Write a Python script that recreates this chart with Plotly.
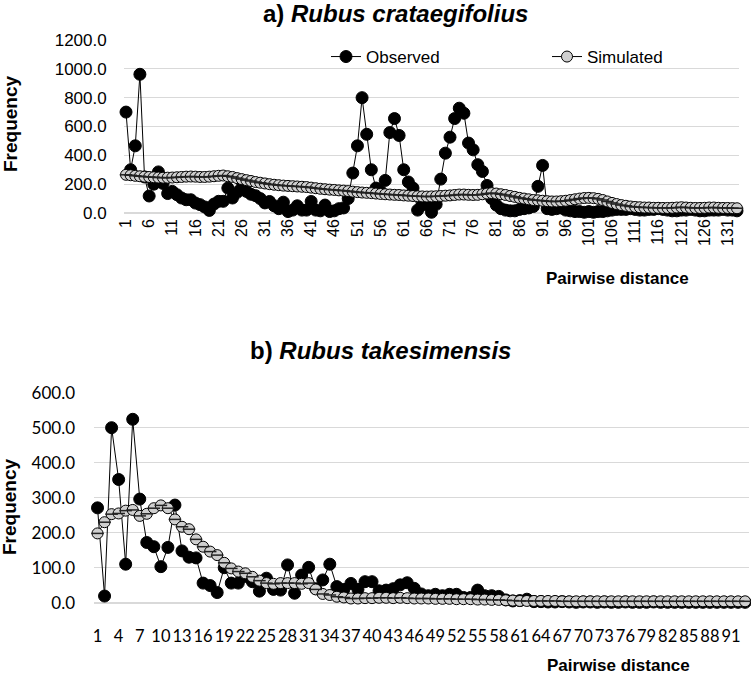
import plotly.graph_objects as go

# a) Rubus crataegifolius - pairwise distance 1..133
dist_a = list(range(1, 134))
observed_a = [
    700, 300, 466, 962, 250, 118, 200, 285, 205, 135,
    150, 127, 104, 92, 92, 69, 58, 42, 18, 62,
    81, 81, 173, 104, 143, 175, 150, 130, 120, 100,
    70, 80, 50, 30, 75, 10, 20, 50, 20, 20,
    80, 20, 15, 55, 10, 15, 30, 35, 100, 277,
    466, 800, 546, 300, 173, 150, 226, 558, 655, 538,
    300, 215, 173, 20, 55, 60, 5, 60, 235, 415,
    526, 655, 727, 692, 485, 438, 335, 288, 191, 100,
    55, 30, 20, 15, 15, 25, 30, 35, 45, 185,
    330, 30, 25, 30, 35, 20, 15, 10, 10, 5,
    10, 5, 10, 10, 15, 20, 25, 25, 25, 30,
    25, 20, 20, 25, 25, 30, 25, 20, 15, 15,
    20, 20, 25, 20, 15, 15, 20, 20, 20, 25,
    20, 20, 15,
]
simulated_a = [
    265, 262, 258, 255, 252, 250, 248, 246, 245, 245,
    246, 248, 250, 252, 253, 252, 250, 250, 252, 255,
    258, 260, 255, 250, 242, 235, 228, 222, 215, 210,
    205, 200, 196, 193, 190, 188, 186, 184, 182, 180,
    176, 172, 168, 165, 162, 160, 157, 155, 152, 148,
    145, 142, 140, 138, 135, 132, 130, 128, 126, 125,
    122, 120, 118, 116, 115, 114, 115, 116, 118, 120,
    122, 125, 128, 128, 126, 125, 126, 130, 135, 138,
    135, 130, 125, 118, 112, 105, 100, 95, 90, 88,
    85, 82, 80, 80, 82, 85, 90, 95, 100, 104,
    105, 103, 98, 90, 80, 70, 62, 55, 50, 45,
    42, 40, 38, 38, 36, 36, 35, 35, 36, 38,
    40, 38, 36, 35, 35, 36, 38, 38, 36, 35,
    35, 34, 33,
]
ticks_a = list(range(1, 134, 5))
yticks_a = [0, 200, 400, 600, 800, 1000, 1200]

# b) Rubus takesimensis - pairwise distance 1..93
dist_b = list(range(1, 94))
observed_b = [
    271, 19, 500, 352, 110, 524, 296, 172, 160, 103,
    158, 279, 148, 130, 128, 56, 49, 29, 100, 56,
    56, 75, 60, 33, 70, 38, 36, 108, 27, 79,
    101, 40, 65, 110, 46, 38, 55, 38, 60, 60,
    34, 36, 40, 51, 57, 41, 25, 20, 24, 20,
    24, 24, 15, 15, 36, 20, 20, 18, 8, 5,
    6, 10, 3, 3, 2, 2, 3, 2, 1, 2,
    2, 1, 2, 1, 1, 2, 1, 1, 1, 2,
    1, 1, 1, 1, 1, 1, 1, 1, 1, 1,
    1, 1, 1,
]
simulated_b = [
    198, 230, 253, 255, 263, 265, 248, 254, 270, 278,
    270, 238, 217, 210, 181, 160, 146, 136, 114, 98,
    89, 84, 74, 63, 56, 54, 56, 56, 56, 54,
    56, 38, 25, 22, 17, 15, 12, 12, 13, 13,
    14, 14, 13, 14, 13, 12, 12, 12, 11, 11,
    11, 10, 10, 10, 9, 9, 8, 8, 7, 6,
    5, 5, 5, 5, 5, 5, 4, 4, 4, 4,
    4, 4, 4, 4, 4, 4, 4, 4, 4, 4,
    4, 4, 4, 4, 4, 4, 4, 4, 4, 4,
    4, 4, 4,
]
ticks_b = list(range(1, 94, 3))
yticks_b = [0, 100, 200, 300, 400, 500, 600]

W, H = 751, 675
GRID = "#d9d9d9"
ARIAL = "Liberation Sans, Arial, sans-serif"
CALIBRI = "Lato, Carlito, Calibri, sans-serif"


def px_x(p):
    return p / W


def px_y(p):
    return 1 - p / H


fig = go.Figure()

obs_style = dict(mode="lines+markers", line=dict(color="black", width=1),
                 marker=dict(color="black", size=12, line=dict(color="black", width=1)),
                 cliponaxis=False)
sim_style = dict(mode="lines+markers", line=dict(color="black", width=1),
                 marker=dict(color="#cfcfcf", size=11, line=dict(color="black", width=1)),
                 cliponaxis=False)
stripe_style = dict(mode="markers", showlegend=False, hoverinfo="skip",
                    marker=dict(symbol="line-ew", size=9, line=dict(color="#222", width=1.5)),
                    cliponaxis=False)

fig.add_trace(go.Scatter(x=dist_a, y=observed_a, name="Observed", legend="legend",
                         xaxis="x", yaxis="y", **obs_style))
fig.add_trace(go.Scatter(x=dist_a, y=simulated_a, name="Simulated", legend="legend2",
                         xaxis="x", yaxis="y", **sim_style))
fig.add_trace(go.Scatter(x=dist_a, y=simulated_a, xaxis="x", yaxis="y", **stripe_style))

fig.add_trace(go.Scatter(x=dist_b, y=observed_b, name="Observed", showlegend=False,
                         xaxis="x2", yaxis="y2", **obs_style))
fig.add_trace(go.Scatter(x=dist_b, y=simulated_b, name="Simulated", showlegend=False,
                         xaxis="x2", yaxis="y2", **sim_style))
fig.add_trace(go.Scatter(x=dist_b, y=simulated_b, xaxis="x2", yaxis="y2", **stripe_style))

legend_common = dict(orientation="h", xanchor="left", yanchor="middle",
                     bgcolor="rgba(0,0,0,0)", font=dict(size=17, family=ARIAL),
                     itemsizing="trace")

fig.update_layout(
    width=W, height=H,
    margin=dict(l=0, r=0, t=0, b=0, autoexpand=False),
    paper_bgcolor="white", plot_bgcolor="white",
    font=dict(family=ARIAL, color="black"),
    xaxis=dict(domain=[px_x(123.7), px_x(739.3)], anchor="y",
               range=[0.5, 133.5], tickvals=ticks_a, ticktext=[str(t) for t in ticks_a],
               tickangle=-90, tickfont=dict(size=16, family=ARIAL),
               showgrid=False, zeroline=False, showline=False, ticks="",
               ticklabelstandoff=2),
    yaxis=dict(domain=[px_y(213), px_y(40)], anchor="x",
               range=[0, 1200], tickvals=yticks_a, ticktext=[f"{v:.1f}" for v in yticks_a],
               tickfont=dict(size=17, family=ARIAL),
               showgrid=True, gridcolor=GRID, gridwidth=1,
               zeroline=True, zerolinecolor=GRID, showline=False, ticks="",
               ticklabelstandoff=16),
    xaxis2=dict(domain=[px_x(94), px_x(748.6)], anchor="y2",
                range=[0.5, 93.5], tickvals=ticks_b, ticktext=[str(t) for t in ticks_b],
                tickangle=0, tickfont=dict(size=16.5, family=CALIBRI),
                showgrid=False, zeroline=False, showline=False, ticks="",
                ticklabelstandoff=22),
    yaxis2=dict(domain=[px_y(602.7), px_y(392.7)], anchor="x2",
                range=[0, 600], tickvals=yticks_b, ticktext=[f"{v:.1f}" for v in yticks_b],
                tickfont=dict(size=17, family=CALIBRI),
                showgrid=True, gridcolor=GRID, gridwidth=1,
                zeroline=True, zerolinecolor=GRID, showline=False, ticks="",
                ticklabelstandoff=18),
    legend=dict(x=px_x(326), y=px_y(57), **legend_common),
    legend2=dict(x=px_x(547), y=px_y(57), **legend_common),
    showlegend=True,
)

annots = [
    dict(text="<b>a) <i>Rubus crataegifolius</i></b>", x=px_x(395), y=px_y(13), size=24),
    dict(text="<b>b) <i>Rubus takesimensis</i></b>", x=px_x(381), y=px_y(350), size=24),
    dict(text="<b>Pairwise distance</b>", x=px_x(617), y=px_y(278), size=17),
    dict(text="<b>Pairwise distance</b>", x=px_x(618), y=px_y(665), size=17),
]
for a in annots:
    fig.add_annotation(text=a["text"], x=a["x"], y=a["y"], xref="paper", yref="paper",
                       showarrow=False, xanchor="center", yanchor="middle",
                       font=dict(size=a["size"], family=ARIAL, color="black"))
for yc in (124, 507):
    fig.add_annotation(text="<b>Frequency</b>", x=px_x(10), y=px_y(yc), xref="paper", yref="paper",
                       showarrow=False, textangle=-90, xanchor="center", yanchor="middle",
                       font=dict(size=19, family=ARIAL, color="black"))

# drop the default 8px body margin so the figure sits at the page corner
fig.write_html("out.html", config={"displayModeBar": False},
               post_script="document.body.style.margin='0';")
